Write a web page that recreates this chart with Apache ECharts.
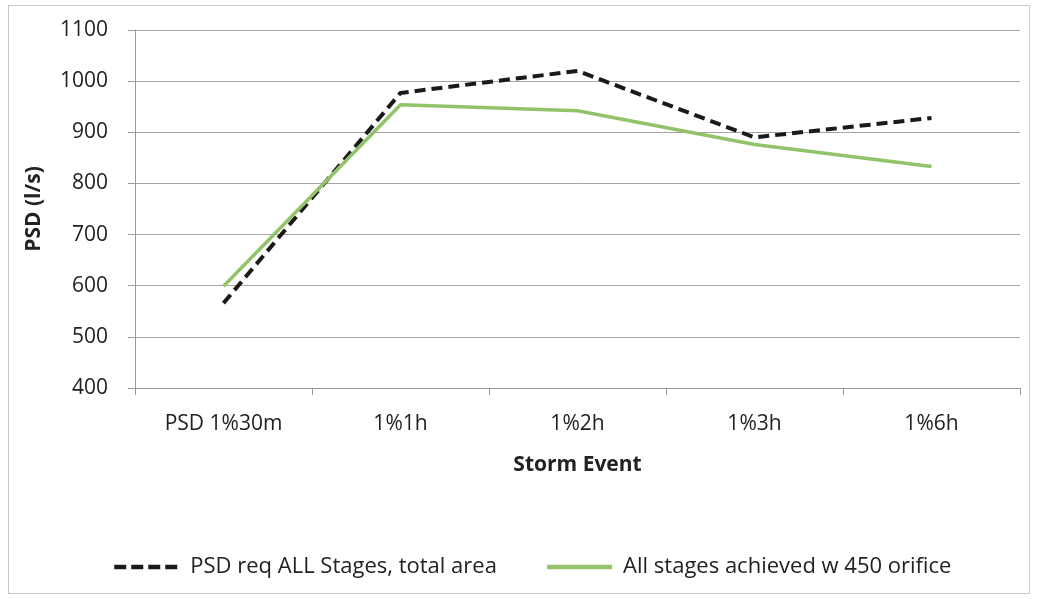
<!DOCTYPE html>
<html><head><meta charset="utf-8">
<script src="https://cdn.jsdelivr.net/npm/echarts@6/dist/echarts.min.js"></script>
<style>html,body{margin:0;padding:0;background:#fff}
#frame{position:absolute;left:8px;top:5px;width:1022px;height:589px;border:1px solid #c8c8c8;box-sizing:border-box}
#c{position:absolute;left:0;top:0;width:1037px;height:599px}</style>
</head><body><div id="frame"></div><div id="c"></div>
<script>
const categories = ['PSD 1%30m', '1%1h', '1%2h', '1%3h', '1%6h'];
const psdRequired = [566, 977, 1020, 890, 928];
const achieved450 = [599, 954, 942, 876, 833];
const seriesNames = ['PSD req ALL Stages, total area', 'All stages achieved w 450 orifice'];
const font = '"Open Sans", Lato, sans-serif';
const chart = echarts.init(document.getElementById('c'), null, {renderer: 'canvas'});
chart.setOption({
  animation: false,
  grid: {left: 135, right: 17, top: 30, bottom: 211},
  legend: {
    top: 551, left: 107, itemWidth: 65, itemHeight: 14, itemGap: 48,
    itemStyle: {opacity: 0},
    textStyle: {fontFamily: font, fontSize: 22, color: '#222', padding: [0, 0, 0, 6]},
    data: [
      {name: seriesNames[0], lineStyle: {width: 4.5, type: [12, 5]}},
      {name: seriesNames[1], lineStyle: {width: 4.5}}
    ]
  },
  xAxis: {
    type: 'category', data: categories, boundaryGap: true,
    name: 'Storm Event', nameLocation: 'middle', nameGap: 67,
    nameTextStyle: {fontFamily: font, fontSize: 21, fontWeight: 'bold', color: '#222'},
    axisLine: {lineStyle: {color: '#9a9a9a', width: 1}},
    axisTick: {show: true, length: 7, lineStyle: {color: '#9a9a9a'}},
    axisLabel: {fontFamily: font, fontSize: 21, color: '#222', margin: 26}
  },
  yAxis: {
    type: 'value', min: 400, max: 1100, interval: 100,
    name: 'PSD (l/s)', nameLocation: 'middle', nameGap: 90, nameRotate: 90,
    nameTextStyle: {fontFamily: font, fontSize: 21, fontWeight: 'bold', color: '#222'},
    axisLine: {show: true, lineStyle: {color: '#9a9a9a'}},
    axisTick: {show: true, length: 7, lineStyle: {color: '#9a9a9a'}},
    axisLabel: {fontFamily: font, fontSize: 21, color: '#222', margin: 27, formatter: v => String(v)},
    splitLine: {lineStyle: {color: '#a6a6a6', width: 1}}
  },
  series: [
    {name: seriesNames[0], type: 'line', data: psdRequired, symbol: 'none',
     lineStyle: {color: '#1a1a1a', width: 4, type: [11, 6]}, itemStyle: {color: '#1a1a1a'}},
    {name: seriesNames[1], type: 'line', data: achieved450, symbol: 'none',
     lineStyle: {color: '#92c36a', width: 3.5}, itemStyle: {color: '#92c36a'}}
  ]
});
</script></body></html>
